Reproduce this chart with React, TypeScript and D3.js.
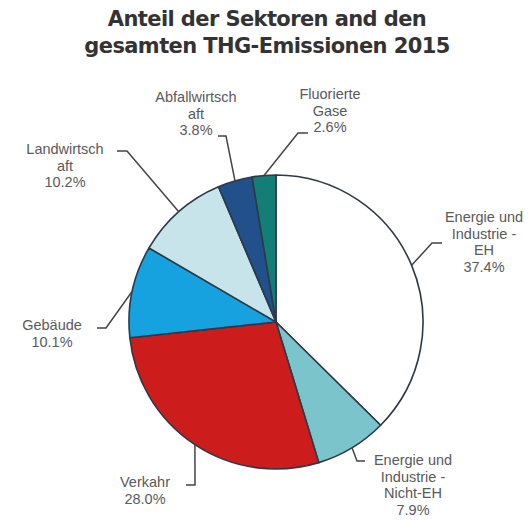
import React from "react";
import * as d3 from "d3";

const titleLines = ["Anteil der Sektoren and den", "gesamten THG-Emissionen 2015"];
const sectors = [
  "Energie und Industrie - EH",
  "Energie und Industrie - Nicht-EH",
  "Verkahr",
  "Gebäude",
  "Landwirtschaft",
  "Abfallwirtschaft",
  "Fluorierte Gase",
];
const shares = [37.4, 7.9, 28.0, 10.1, 10.2, 3.8, 2.6];
const labelLines = [
  ["Energie und", "Industrie -", "EH", "37.4%"],
  ["Energie und", "Industrie -", "Nicht-EH", "7.9%"],
  ["Verkahr", "28.0%"],
  ["Gebäude", "10.1%"],
  ["Landwirtsch", "aft", "10.2%"],
  ["Abfallwirtsch", "aft", "3.8%"],
  ["Fluorierte", "Gase", "2.6%"],
];
const colors = ["#ffffff", "#7cc4cc", "#cc1c1c", "#16a2de", "#c8e4eb", "#21508a", "#137e76"];

// layout: label centre x, first baseline y, elbow point, horizontal end
const labelLayout = [
  { x: 484, y: 222, ex: 432, ey: 243, hx: 442 },
  { x: 413, y: 465, ex: 357, ey: 461, hx: 365 },
  { x: 145, y: 487, ex: 195, ey: 485, hx: 186 },
  { x: 52, y: 330, ex: 106, ey: 328, hx: 97 },
  { x: 65, y: 154, ex: 127, ey: 151, hx: 117 },
  { x: 196, y: 102, ex: 226, ey: 136, hx: 218 },
  { x: 330, y: 99, ex: 298, ey: 133, hx: 308 },
];

export default function App() {
  const W = 530, H = 521;
  const cx = 276, cy = 322, r = 147;
  const pie = d3.pie<number>().value((d) => d).sort(null);
  const arcs = pie(shares);
  const arc = d3.arc<d3.PieArcDatum<number>>().innerRadius(0).outerRadius(r);
  const lh = 16.5;
  return (
    <svg width={W} height={H} style={{ position: "absolute", left: 0, top: 0, background: "#fff" }}>
      {titleLines.map((t, i) => (
        <text key={i} x={267} y={26 + i * 27} textAnchor="middle"
          fontFamily="DejaVu Sans, Verdana, sans-serif" fontWeight="bold" fontSize={21}
          letterSpacing={-0.6} fill="#333">{t}</text>
      ))}
      <g transform={`translate(${cx},${cy})`}>
        {arcs.map((a, i) => (
          <path key={i} d={arc(a) || ""} fill={colors[i]} stroke="#2c3a48" strokeWidth={1.6}
            strokeLinejoin="round" />
        ))}
      </g>
      {arcs.map((a, i) => {
        const mid = (a.startAngle + a.endAngle) / 2;
        const px = cx + r * Math.sin(mid);
        const py = cy - r * Math.cos(mid);
        const L = labelLayout[i];
        return (
          <g key={i}>
            <polyline points={`${px},${py} ${L.ex},${L.ey} ${L.hx},${L.ey}`} fill="none"
              stroke="#444" strokeWidth={1.5} />
            <text textAnchor="middle" fontFamily="Liberation Sans, Arial, sans-serif" fontSize={14.5}
              fill="#5a5a5a">
              {labelLines[i].map((s, j) => (
                <tspan key={j} x={L.x} y={L.y + j * lh}>{s}</tspan>
              ))}
            </text>
          </g>
        );
      })}
    </svg>
  );
}
